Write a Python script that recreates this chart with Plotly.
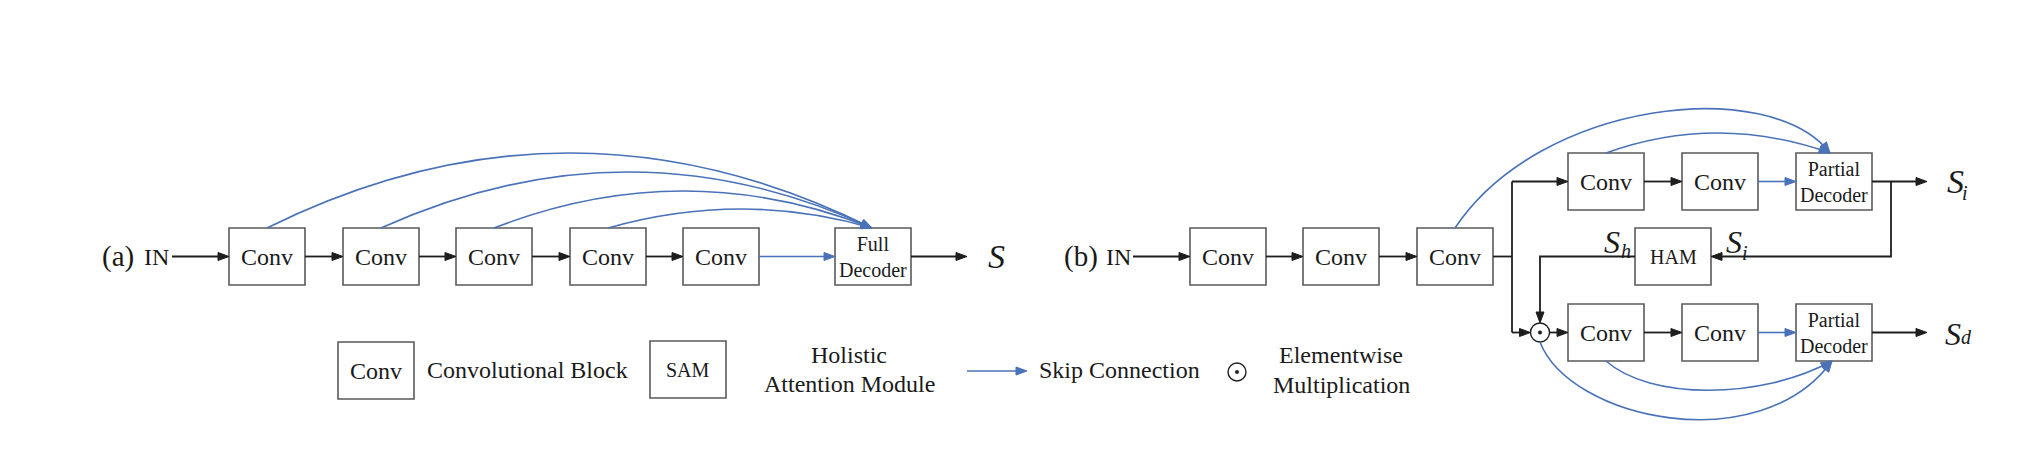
import math
import plotly.graph_objects as go

# ---------------- data (labels / text content) ----------------
a_blocks = ["Conv", "Conv", "Conv", "Conv", "Conv", "Full<br>Decoder"]
b_trunk = ["Conv", "Conv", "Conv"]
b_top = ["Conv", "Conv", "Partial<br>Decoder"]
b_bottom = ["Conv", "Conv", "Partial<br>Decoder"]
ham_label = "HAM"
panel_labels = ["(a)", "(b)"]
input_label = "IN"
legend_box_labels = ["Conv", "SAM"]
legend_texts = ["Convolutional Block", "Holistic", "Attention Module",
                "Skip Connection", "Elementwise", "Multiplication"]

# ---------------- layout geometry (pixel canvas) ----------------
W, H = 2042, 474
PAD = 8  # default page body margin
BW, BH = 76, 57
BLACK = "#1e1e1e"
BOXC = "#5a5a5a"
BLUE = "#4a72b8"
TXT = "#1a1a1a"
FONT = "Liberation Serif"

shapes = []
annotations = []


def text(x, y, s, size, italic=False, xanchor="center", yanchor="middle"):
    if italic:
        s = "<i>" + s + "</i>"
    annotations.append(dict(x=x, y=y, xref="x", yref="y", text=s, showarrow=False,
                            xanchor=xanchor, yanchor=yanchor,
                            font=dict(family=FONT, size=size, color=TXT)))


def box(x0, y0, label, size, w=BW, h=BH):
    shapes.append(dict(type="rect", xref="x", yref="y", x0=x0, y0=y0, x1=x0 + w, y1=y0 + h,
                       line=dict(color=BOXC, width=1.6), fillcolor="white", layer="above"))
    text(x0 + w / 2, y0 + h / 2, label, size)


def head(tx, ty, dx, dy, color, L=11, hw=4):
    n = math.hypot(dx, dy)
    ux, uy = dx / n, dy / n
    bx, by = tx - L * ux, ty - L * uy
    px, py = -uy, ux
    p = f"M {tx},{ty} L {bx + hw * px},{by + hw * py} L {bx - hw * px},{by - hw * py} Z"
    shapes.append(dict(type="path", xref="x", yref="y", path=p, fillcolor=color,
                       line=dict(color=color, width=1), layer="above"))
    return bx, by, ux, uy


def line(pts, color=BLACK, width=1.8):
    p = "M " + " L ".join(f"{x},{y}" for x, y in pts)
    shapes.append(dict(type="path", xref="x", yref="y", path=p,
                       line=dict(color=color, width=width), layer="above"))


def arrow(pts, color=BLACK, width=1.8):
    (x0, y0), (x1, y1) = pts[-2], pts[-1]
    bx, by, ux, uy = head(x1, y1, x1 - x0, y1 - y0, color)
    line(pts[:-1] + [(bx + 2 * ux, by + 2 * uy)], color, width)


def curve(p0, c1, c2, p3, color=BLUE, width=1.6):
    if c2 is None:
        path = f"M {p0[0]},{p0[1]} Q {c1[0]},{c1[1]} {p3[0]},{p3[1]}"
        d = (p3[0] - c1[0], p3[1] - c1[1])
    else:
        path = f"M {p0[0]},{p0[1]} C {c1[0]},{c1[1]} {c2[0]},{c2[1]} {p3[0]},{p3[1]}"
        d = (p3[0] - c2[0], p3[1] - c2[1])
    shapes.append(dict(type="path", xref="x", yref="y", path=path,
                       line=dict(color=color, width=width), layer="above"))
    head(p3[0], p3[1], d[0], d[1], color)


def odot(cx, cy, r=9.5):
    shapes.append(dict(type="circle", xref="x", yref="y", x0=cx - r, y0=cy - r, x1=cx + r, y1=cy + r,
                       line=dict(color=BLACK, width=1.4), fillcolor="white", layer="above"))
    shapes.append(dict(type="circle", xref="x", yref="y", x0=cx - 1.8, y0=cy - 1.8, x1=cx + 1.8, y1=cy + 1.8,
                       line=dict(color=BLACK, width=0.5), fillcolor=BLACK, layer="above"))


# ---------------- panel (a) ----------------
a_x = [229, 343, 456, 570, 683, 835]
a_y = 228
a_cy = a_y + BH / 2
for i, lab in enumerate(a_blocks):
    box(a_x[i], a_y, lab, 24 if i < 5 else 20)
text(118, a_cy, panel_labels[0], 29)
text(156, a_cy, input_label, 24)
arrow([(172, a_cy), (a_x[0], a_cy)])
for i in range(4):
    arrow([(a_x[i] + BW, a_cy), (a_x[i + 1], a_cy)])
arrow([(a_x[4] + BW, a_cy), (a_x[5], a_cy)], BLUE, 1.6)
arrow([(a_x[5] + BW, a_cy), (967, a_cy)])
text(996, a_cy, "S", 34, italic=True)
tgt = (872, a_y)
a_ctrl = [(570, 78), (630, 116), (684, 154), (742, 190)]
for i in range(4):
    curve((a_x[i] + BW / 2, a_y), a_ctrl[i], None, tgt)

# ---------------- panel (b) ----------------
t_x = [1190, 1303, 1417]
t_y = 228
t_cy = t_y + BH / 2
for i, lab in enumerate(b_trunk):
    box(t_x[i], t_y, lab, 24)
text(1081, t_cy, panel_labels[1], 29)
text(1118, t_cy, input_label, 24)
arrow([(1133, t_cy), (t_x[0], t_cy)])
for i in range(2):
    arrow([(t_x[i] + BW, t_cy), (t_x[i + 1], t_cy)])

r_x = [1568, 1682, 1796]
top_y, bot_y = 153, 304
top_cy, bot_cy = top_y + BH / 2, bot_y + BH / 2
for i, lab in enumerate(b_top):
    box(r_x[i], top_y, lab, 24 if i < 2 else 20)
for i, lab in enumerate(b_bottom):
    box(r_x[i], bot_y, lab, 24 if i < 2 else 20)
ham_x = 1635
box(ham_x, t_y, ham_label, 20)

vx = 1512
line([(t_x[2] + BW, t_cy), (vx, t_cy)])
line([(vx, top_cy), (vx, bot_cy)])
arrow([(vx, top_cy), (r_x[0], top_cy)])
cx_dot, r_dot = 1540, 9.5
arrow([(vx, bot_cy), (cx_dot - r_dot, bot_cy)])
arrow([(r_x[0] + BW, top_cy), (r_x[1], top_cy)])
arrow([(r_x[1] + BW, top_cy), (r_x[2], top_cy)], BLUE, 1.6)
arrow([(r_x[2] + BW, top_cy), (1927, top_cy)])
arrow([(r_x[0] + BW, bot_cy), (r_x[1], bot_cy)])
arrow([(r_x[1] + BW, bot_cy), (r_x[2], bot_cy)], BLUE, 1.6)
arrow([(r_x[2] + BW, bot_cy), (1927, bot_cy)])
# feedback via HAM
arrow([(1891, top_cy), (1891, t_cy), (ham_x + BW, t_cy)])
arrow([(ham_x, t_cy), (cx_dot, t_cy), (cx_dot, bot_cy - r_dot)])
arrow([(cx_dot + r_dot, bot_cy), (r_x[0], bot_cy)])
odot(cx_dot, bot_cy, r_dot)

# skip arcs (b)
pd_top = (1830, top_y)
curve((t_x[2] + BW / 2, t_y), (1540, 100), (1770, 75), pd_top)
curve((r_x[0] + BW / 2, top_y), (1717, 113), None, pd_top)
pd_bot = (1832, bot_y + BH)
curve((r_x[0] + BW / 2, bot_y + BH), (1650, 400), (1760, 400), pd_bot)
curve((cx_dot, bot_cy + r_dot), (1570, 420), (1760, 460), pd_bot)

# output / signal labels
text(1955, 181, "S", 34, italic=True)
text(1965, 193, "i", 20, italic=True)
text(1612, 242, "S", 32, italic=True)
text(1626, 251, "h", 20, italic=True)
text(1734, 242, "S", 32, italic=True)
text(1745, 253, "i", 20, italic=True)
text(1953, 334, "S", 32, italic=True)
text(1966, 337, "d", 20, italic=True)

# ---------------- legend ----------------
box(338, 342, legend_box_labels[0], 24)
text(527, 370, legend_texts[0], 24)
box(650, 341, legend_box_labels[1], 20)
text(849, 355, legend_texts[1], 24)
text(849, 384, legend_texts[2], 24)
arrow([(967, 371), (1027, 371)], BLUE, 1.6)
text(1119, 370, legend_texts[3], 24)
odot(1237, 372, 9)
text(1341, 355, legend_texts[4], 24)
text(1341, 385, legend_texts[5], 24)

fig = go.Figure()
fig.add_trace(go.Scatter(x=[PAD, W - PAD], y=[PAD, H - PAD], mode="markers", marker=dict(opacity=0),
                         hoverinfo="skip", showlegend=False))
# the page body has an 8px margin, so the figure is inset and its ranges offset
fig.update_layout(
    width=W - 2 * PAD, height=H - 2 * PAD, margin=dict(l=0, r=0, t=0, b=0),
    paper_bgcolor="white", plot_bgcolor="white",
    xaxis=dict(range=[PAD, W - PAD], visible=False, fixedrange=True),
    yaxis=dict(range=[H - PAD, PAD], visible=False, fixedrange=True),
    shapes=shapes, annotations=annotations, showlegend=False,
)
fig.write_html("out.html")
